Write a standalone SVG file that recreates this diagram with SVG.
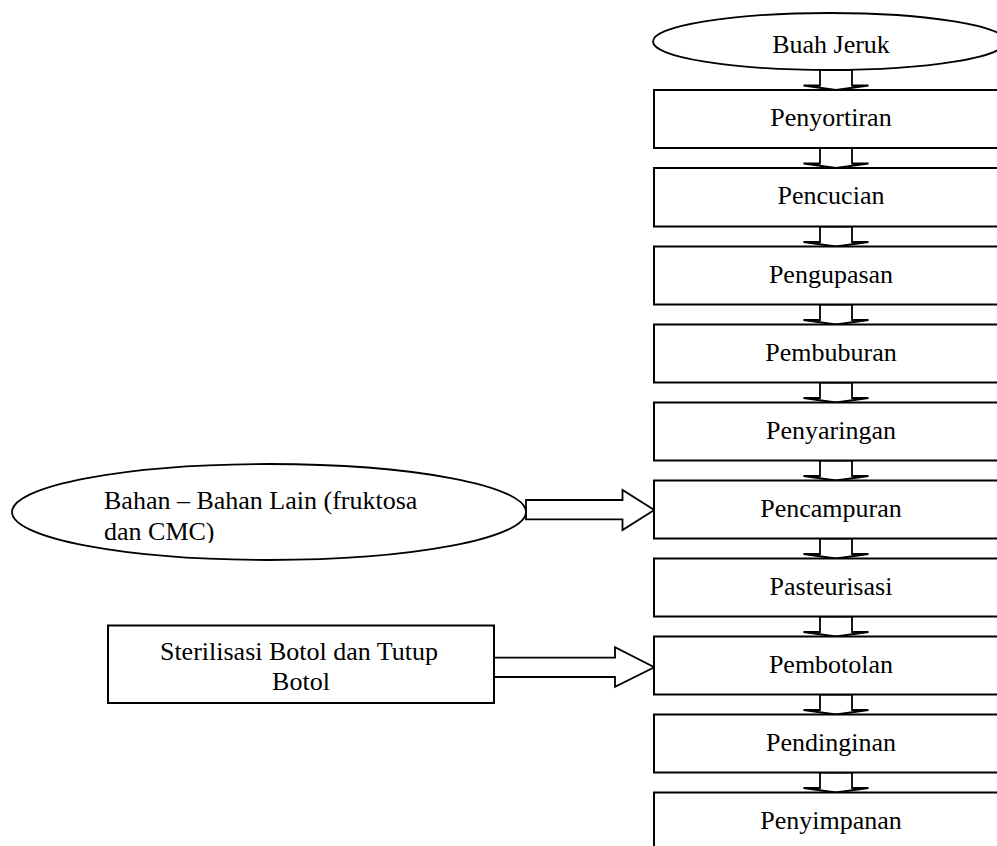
<svg xmlns="http://www.w3.org/2000/svg" width="997" height="846" viewBox="0 0 997 846">
<style>
  .box { fill: #ffffff; stroke: #000000; stroke-width: 2; }
  .ell { fill: #ffffff; stroke: #000000; stroke-width: 1.8; }
  .arr { fill: #ffffff; stroke: #000000; stroke-width: 1.8; stroke-linejoin: miter; }
  .lbl { font-family: "Liberation Serif", "Times New Roman", serif; font-size: 26px; fill: #000000; }
  .mid { text-anchor: middle; }
</style>
<defs>
  <path id="down" d="M820,0 H852 V15.5 H868.5 L836,20 L803.5,15.5 H820 Z"/>
  <clipPath id="bahanClip">
    <rect x="90" y="480" width="360" height="63"/>
  </clipPath>
</defs>
<rect x="0" y="0" width="997" height="846" fill="#ffffff"/>

<g id="connectors">
  <use href="#down" class="arr" transform="translate(0,70)"/>
  <use href="#down" class="arr" transform="translate(0,148)"/>
  <use href="#down" class="arr" transform="translate(0,226.5)"/>
  <use href="#down" class="arr" transform="translate(0,304.5)"/>
  <use href="#down" class="arr" transform="translate(0,382.5)"/>
  <use href="#down" class="arr" transform="translate(0,460.5)"/>
  <use href="#down" class="arr" transform="translate(0,538.5)"/>
  <use href="#down" class="arr" transform="translate(0,616.5)"/>
  <use href="#down" class="arr" transform="translate(0,694.5)"/>
  <use href="#down" class="arr" transform="translate(0,772.5)"/>
  <path class="arr" d="M526,500 H622.5 V490 L654.3,510 L622.5,530 V519.3 H526 Z"/>
  <path class="arr" d="M494,657.7 H615 V647.3 L654.3,667.3 L615,686.7 V677 H494 Z"/>
</g>

<g id="buah-jeruk">
  <ellipse class="ell" cx="829.5" cy="41.5" rx="176.5" ry="28.5"/>
  <text class="lbl mid" x="831" y="53">Buah Jeruk</text>
</g>
<g id="penyortiran">
  <rect class="box" x="654" y="90" width="360" height="58"/>
  <text class="lbl mid" x="831" y="126">Penyortiran</text>
</g>
<g id="pencucian">
  <rect class="box" x="654" y="168" width="360" height="58.5"/>
  <text class="lbl mid" x="831" y="204">Pencucian</text>
</g>
<g id="pengupasan">
  <rect class="box" x="654" y="246.5" width="360" height="58"/>
  <text class="lbl mid" x="831" y="282.5">Pengupasan</text>
</g>
<g id="pembuburan">
  <rect class="box" x="654" y="324.5" width="360" height="58"/>
  <text class="lbl mid" x="831" y="360.5">Pembuburan</text>
</g>
<g id="penyaringan">
  <rect class="box" x="654" y="402.5" width="360" height="58"/>
  <text class="lbl mid" x="831" y="438.5">Penyaringan</text>
</g>
<g id="pencampuran">
  <rect class="box" x="654" y="480.5" width="360" height="58"/>
  <text class="lbl mid" x="831" y="516.5">Pencampuran</text>
</g>
<g id="pasteurisasi">
  <rect class="box" x="654" y="558.5" width="360" height="58"/>
  <text class="lbl mid" x="831" y="594.5">Pasteurisasi</text>
</g>
<g id="pembotolan">
  <rect class="box" x="654" y="636.5" width="360" height="58"/>
  <text class="lbl mid" x="831" y="672.5">Pembotolan</text>
</g>
<g id="pendinginan">
  <rect class="box" x="654" y="714.5" width="360" height="58"/>
  <text class="lbl mid" x="831" y="750.5">Pendinginan</text>
</g>
<g id="penyimpanan">
  <rect class="box" x="654" y="792.5" width="360" height="70"/>
  <text class="lbl mid" x="831" y="828.5">Penyimpanan</text>
</g>

<g id="bahan-lain">
  <ellipse class="ell" cx="269" cy="512" rx="257" ry="48"/>
  <g clip-path="url(#bahanClip)">
    <text class="lbl" x="104" y="509">Bahan – Bahan Lain (fruktosa</text>
    <text class="lbl" x="104" y="540">dan CMC)</text>
  </g>
</g>

<g id="sterilisasi">
  <rect class="box" x="108" y="625.5" width="386" height="77.5"/>
  <text class="lbl mid" x="299" y="660">Sterilisasi Botol dan Tutup</text>
  <text class="lbl mid" x="301" y="690">Botol</text>
</g>
</svg>
